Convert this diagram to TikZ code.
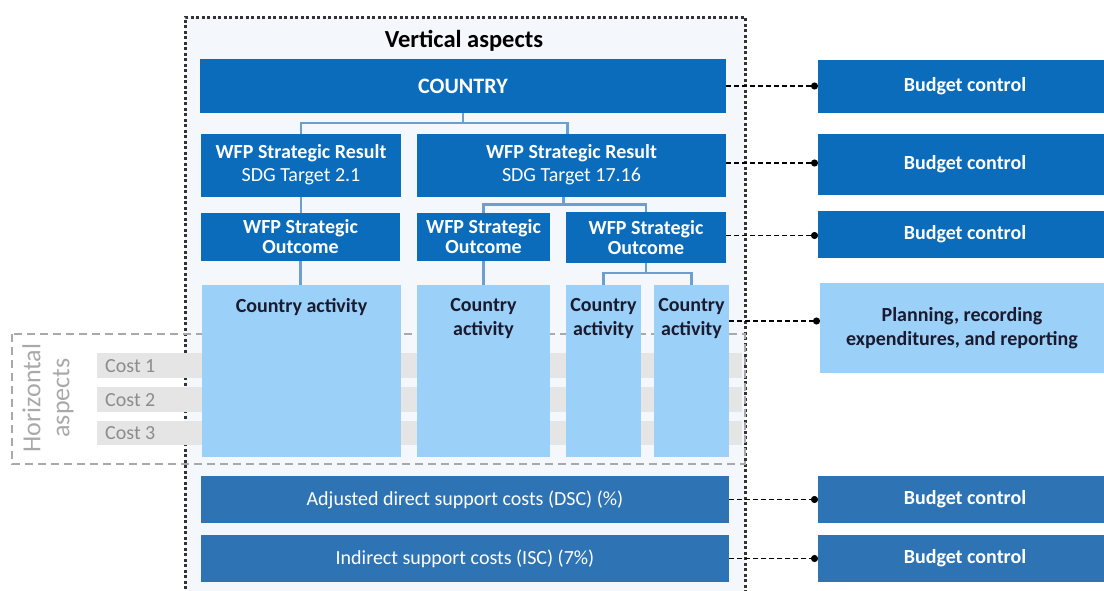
\documentclass[tikz,border=0pt]{standalone}
\usepackage{fontspec}
\setmainfont{Carlito}
\usetikzlibrary{arrows.meta}
\definecolor{dkblue}{HTML}{0B6CBB}
\definecolor{midblue}{HTML}{2E74B5}
\definecolor{ltblue}{HTML}{9BD0F8}
\definecolor{treeline}{HTML}{6C9FCF}
\definecolor{barfill}{HTML}{E5E5E5}
\definecolor{costtext}{HTML}{8C8C8C}
\definecolor{haspect}{HTML}{A9A9A9}
\definecolor{catext}{HTML}{1B1B2F}
\definecolor{vfill}{HTML}{F4F7FB}
\tikzset{
  boxbase/.style={inner sep=0pt, outer sep=0pt, align=center},
  dkbox/.style={boxbase, fill=dkblue, text=white, font=\bfseries\fontsize{20}{23}\selectfont},
  midbox/.style={boxbase, fill=midblue, text=white, font=\fontsize{20}{23}\selectfont},
  midbold/.style={boxbase, fill=midblue, text=white, font=\bfseries\fontsize{20}{23}\selectfont},
  ltbox/.style={boxbase, fill=ltblue, text=catext, font=\bfseries\fontsize{20}{24}\selectfont},
  tree/.style={draw=treeline, line width=2.5pt},
  dashc/.style={draw=black, line width=1.8pt, dash pattern=on 5pt off 3pt, -{Circle[length=7pt]}},
  costbar/.style={fill=barfill},
  costlbl/.style={anchor=west, text=costtext, font=\fontsize{20}{23}\selectfont, inner sep=0pt},
}
\begin{document}
\begin{tikzpicture}[x=1pt,y=-1pt]
\useasboundingbox (0,0) rectangle (1104,590);
% vertical aspects area
\fill[vfill] (185,17) rectangle (745,600);
\draw[black!80, line width=3pt, dash pattern=on 3pt off 2.5pt] (185,600) -- (185,17) -- (745,17) -- (745,600);
\node[font=\bfseries\fontsize{24.5}{28}\selectfont, inner sep=0pt] (vtitle) at (464,41) {Vertical aspects};
% horizontal aspects
\draw[haspect, line width=2.5pt, dash pattern=on 8pt off 5pt] (12,334) rectangle (745,464);
\fill[costbar] (97,353) rectangle (742,378);
\fill[costbar] (97,387) rectangle (742,412);
\fill[costbar] (97,421) rectangle (742,445);
\node[costlbl] (cost1) at (105,366) {Cost 1};
\node[costlbl] (cost2) at (105,400) {Cost 2};
\node[costlbl] (cost3) at (105,433) {Cost 3};
\node[rotate=90, align=center, text=haspect, font=\fontsize{26}{29}\selectfont, inner sep=0pt] (hlabel) at (48,398) {Horizontal\\aspects};
% main hierarchy
\node[dkbox, minimum width=526pt, minimum height=54pt, font=\bfseries\fontsize{22}{24}\selectfont] (country) at (463,86) {COUNTRY};
\node[dkbox, minimum width=200pt, minimum height=63pt] (sr1) at (301,165) {WFP Strategic Result\\\mdseries SDG Target 2.1};
\node[dkbox, minimum width=309pt, minimum height=63pt] (sr2) at (571.5,165) {WFP Strategic Result\\\mdseries SDG Target 17.16};
\node[dkbox, minimum width=199pt, minimum height=48pt, font=\bfseries\fontsize{20}{20}\selectfont] (so1) at (300.5,237) {WFP Strategic\\Outcome};
\node[dkbox, minimum width=133pt, minimum height=48pt, font=\bfseries\fontsize{20}{20}\selectfont] (so2) at (483.5,237) {WFP Strategic\\Outcome};
\node[dkbox, minimum width=160pt, minimum height=51pt, font=\bfseries\fontsize{20}{20}\selectfont] (so3) at (646,237.5) {WFP Strategic\\Outcome};
\node[ltbox, minimum width=199pt, minimum height=172pt] (ca1) at (301.5,371) {\parbox[t][172pt][t]{199pt}{\centering\vspace*{13pt}Country activity}};
\node[ltbox, minimum width=133pt, minimum height=172pt] (ca2) at (483.5,371) {\parbox[t][172pt][t]{133pt}{\centering\vspace*{13pt}Country\\activity}};
\node[ltbox, minimum width=75pt, minimum height=172pt] (ca3) at (603.5,371) {\parbox[t][172pt][t]{75pt}{\centering\vspace*{13pt}Country\\activity}};
\node[ltbox, minimum width=75pt, minimum height=172pt] (ca4) at (691.5,371) {\parbox[t][172pt][t]{75pt}{\centering\vspace*{13pt}Country\\activity}};
\node[midbox, minimum width=528pt, minimum height=47pt] (dsc) at (465,499.5) {Adjusted direct support costs (DSC) (\%)};
\node[midbox, minimum width=528pt, minimum height=47pt] (isc) at (465,558.5) {Indirect support costs (ISC) (7\%)};
% tree connectors
\draw[tree] (country.south) -- ++(0,10) -| (sr1.north);
\draw[tree] (country.south) -- ++(0,10) -| ([xshift=-4pt]sr2.north);
\draw[tree] (sr1.south) -- (sr1.south |- so1.north);
\draw[tree] (so1.south) -- (so1.south |- ca1.north);
\draw[tree] ([xshift=-8pt]sr2.south) -- ++(0,8) -| (so2.north);
\draw[tree] ([xshift=-8pt]sr2.south) -- ++(0,8) -| (so3.north);
\draw[tree] (so2.south) -- (so2.south |- ca2.north);
\draw[tree] (so3.south) -- ++(0,10) -| (ca3.north);
\draw[tree] (so3.south) -- ++(0,10) -| (ca4.north);
% right column
\node[dkbox, minimum width=286pt, minimum height=53pt] (bc1) at (961,86.5) {\hspace*{8pt}Budget control};
\node[dkbox, minimum width=286pt, minimum height=61pt] (bc2) at (961,164.5) {\hspace*{8pt}Budget control};
\node[dkbox, minimum width=286pt, minimum height=47pt] (bc3) at (961,234.5) {\hspace*{8pt}Budget control};
\node[ltbox, minimum width=284pt, minimum height=90pt] (plan) at (962,328) {Planning, recording\\expenditures, and reporting};
\node[midbold, minimum width=286pt, minimum height=47pt] (bc4) at (961,499.5) {\hspace*{8pt}Budget control};
\node[midbold, minimum width=286pt, minimum height=47pt] (bc5) at (961,558.5) {\hspace*{8pt}Budget control};
% dashed connectors
\coordinate (c4) at ([yshift=-36pt]ca4.north east);
\draw[dashc] (country.east) -- (country.east -| bc1.west);
\draw[dashc] ([yshift=2pt]sr2.east) -- ([yshift=2pt]sr2.east -| bc2.west);
\draw[dashc] ([yshift=2pt]so3.east) -- ([yshift=2pt]so3.east -| bc3.west);
\draw[dashc] (c4) -- (c4 -| plan.west);
\draw[dashc] (dsc.east) -- (dsc.east -| bc4.west);
\draw[dashc] (isc.east) -- (isc.east -| bc5.west);
\end{tikzpicture}
\end{document}
